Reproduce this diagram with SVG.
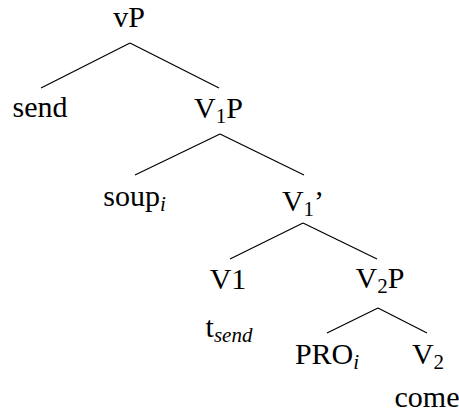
<svg xmlns="http://www.w3.org/2000/svg" width="459" height="414" viewBox="0 0 459 414">
<style>
text{font-family:"Liberation Serif","Times New Roman",serif;font-size:30px;fill:#000;text-anchor:middle}
.s{font-size:21px}
.i{font-style:italic}
.e line{stroke:#000;stroke-width:1.2}
</style>
<rect width="459" height="414" fill="#fff"/>
<g id="edges" class="e">
<line x1="130" y1="43" x2="41" y2="88"/>
<line x1="130" y1="43" x2="219" y2="88"/>
<line x1="220" y1="134" x2="135" y2="175"/>
<line x1="220" y1="134" x2="304" y2="175"/>
<line x1="303" y1="223" x2="230" y2="259"/>
<line x1="303" y1="223" x2="377" y2="259"/>
<line x1="378" y1="308" x2="327" y2="333"/>
<line x1="378" y1="308" x2="427" y2="333"/>
</g>
<g id="vP"><text x="129" y="27">vP</text></g>
<g id="send"><text x="40" y="117">send</text></g>
<g id="V1P"><text x="218.5" y="118">V<tspan class="s" dy="5">1</tspan><tspan dy="-5">P</tspan></text></g>
<g id="soup"><text x="134.5" y="206">soup<tspan class="s i" dy="5">i</tspan></text></g>
<g id="V1bar"><text x="303" y="211">V<tspan class="s" dy="5">1</tspan><tspan dy="-5">’</tspan></text></g>
<g id="V1"><text x="228" y="289">V1</text></g>
<g id="tsend"><text x="229" y="337">t<tspan class="s i" dy="5">send</tspan></text></g>
<g id="V2P"><text x="380" y="288">V<tspan class="s" dy="5">2</tspan><tspan dy="-5">P</tspan></text></g>
<g id="PRO"><text x="327" y="364">PRO<tspan class="s i" dy="5">i</tspan></text></g>
<g id="V2"><text x="428" y="364">V<tspan class="s" dy="5">2</tspan></text></g>
<g id="come"><text x="427" y="407">come</text></g>
</svg>
